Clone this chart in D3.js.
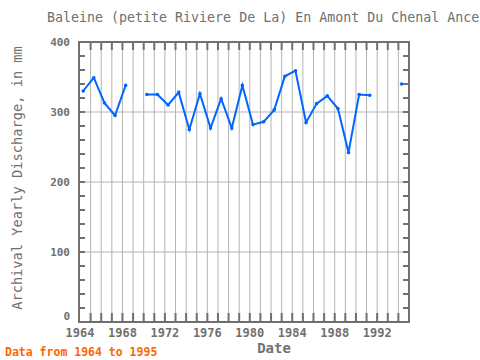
<!DOCTYPE html>
<html><head><meta charset="utf-8">
<script src="https://cdn.jsdelivr.net/npm/d3@7"></script>
<style>body{margin:0;background:#fff}svg{display:block}</style>
</head><body>
<script>
const years = [1964,1965,1966,1967,1968,1969,1970,1971,1972,1973,1974,1975,1976,1977,1978,1979,1980,1981,1982,1983,1984,1985,1986,1987,1988,1989,1990,1991,1992,1993,1994];
const discharge = [330,349,313,295,338,null,325,325,310,328,275,326,277,319,277,338,282,286,303,351,359,285,312,323,305,242,325,324,null,null,340];
const yTicks = [0,100,200,300,400];
const xTicks = [1964,1968,1972,1976,1980,1984,1988,1992];
const title = "Baleine (petite Riviere De La) En Amont Du Chenal Ance";
const yLabel = "Archival Yearly Discharge, in mm";
const xLabel = "Date";
const footer = "Data from 1964 to 1995";

const W=480,H=360, L=79, R=409, T=42, B=322;
const gray="#707070", grid="#b4b4b4", blue="#0066ff";
const font="'DejaVu Sans Mono', monospace";
const svg=d3.select("body").append("svg").attr("width",W).attr("height",H);
const x=d3.scaleLinear().domain([1964,1995]).range([L+1,R]);
const y=d3.scaleLinear().domain([0,400]).range([B,T]);
const off=0.3;

// grid
svg.append("g").selectAll("line").data(d3.range(1965,1995)).join("line")
  .attr("x1",d=>x(d)).attr("x2",d=>x(d)).attr("y1",T).attr("y2",B)
  .attr("stroke",grid).attr("stroke-width",1);
svg.append("g").selectAll("line").data(yTicks.slice(1,-1)).join("line")
  .attr("x1",L).attr("x2",R).attr("y1",d=>y(d)).attr("y2",d=>y(d))
  .attr("stroke",grid).attr("stroke-width",1);

// ticks (inward)
const minorY=d3.range(20,400,20);
svg.append("g").selectAll("line").data(minorY).join("line")
  .attr("x1",L).attr("x2",L+6).attr("y1",d=>y(d)).attr("y2",d=>y(d)).attr("stroke",gray).attr("stroke-width",2);
svg.append("g").selectAll("line").data(minorY).join("line")
  .attr("x1",R-6).attr("x2",R).attr("y1",d=>y(d)).attr("y2",d=>y(d)).attr("stroke",gray).attr("stroke-width",2);
const xt=d3.range(1965,1995);
svg.append("g").selectAll("line").data(xt).join("line")
  .attr("x1",d=>x(d)).attr("x2",d=>x(d)).attr("y1",B-9).attr("y2",B).attr("stroke",gray).attr("stroke-width",2);
svg.append("g").selectAll("line").data(xt).join("line")
  .attr("x1",d=>x(d)).attr("x2",d=>x(d)).attr("y1",T).attr("y2",T+8).attr("stroke",gray).attr("stroke-width",2);

// frame
svg.append("rect").attr("x",L).attr("y",T).attr("width",R-L).attr("height",B-T)
  .attr("fill","none").attr("stroke",gray).attr("stroke-width",2);

// tick labels
svg.append("g").selectAll("text").data(yTicks).join("text")
  .attr("x",70).attr("y",d=>y(d)+(d===0?-2:4)).attr("text-anchor","end")
  .attr("font-family",font).attr("font-size",11).attr("font-weight","bold").attr("fill",gray).text(d=>d);
svg.append("g").selectAll("text").data(xTicks).join("text")
  .attr("x",d=>x(d)).attr("y",337).attr("text-anchor","middle")
  .attr("font-family",font).attr("font-size",12).attr("font-weight","bold").attr("fill",gray).text(d=>d);

// line
const pts=years.map((yr,i)=>({yr,v:discharge[i]}));
const line=d3.line().defined(d=>d.v!=null).x(d=>x(d.yr+off)).y(d=>y(d.v));
svg.append("path").datum(pts).attr("d",line).attr("fill","none").attr("stroke",blue).attr("stroke-width",2);
svg.append("g").selectAll("circle").data(pts.filter(d=>d.v!=null)).join("circle")
  .attr("cx",d=>x(d.yr+off)).attr("cy",d=>y(d.v)).attr("r",1.8).attr("fill",blue);

// texts
svg.append("text").attr("x",47).attr("y",22).attr("font-family",font).attr("font-size",13.3)
  .attr("fill",gray).text(title);
svg.append("text").attr("transform","translate(22,178) rotate(-90)").attr("text-anchor","middle")
  .attr("font-family",font).attr("font-size",13.7).attr("fill",gray).text(yLabel);
svg.append("text").attr("x",274).attr("y",353).attr("text-anchor","middle").attr("font-family",font)
  .attr("font-size",14).attr("font-weight","bold").attr("fill",gray).text(xLabel);
svg.append("text").attr("x",5).attr("y",356).attr("font-family",font).attr("font-size",11.5)
  .attr("font-weight","bold").attr("fill","#ff6600").text(footer);
</script>
</body></html>
